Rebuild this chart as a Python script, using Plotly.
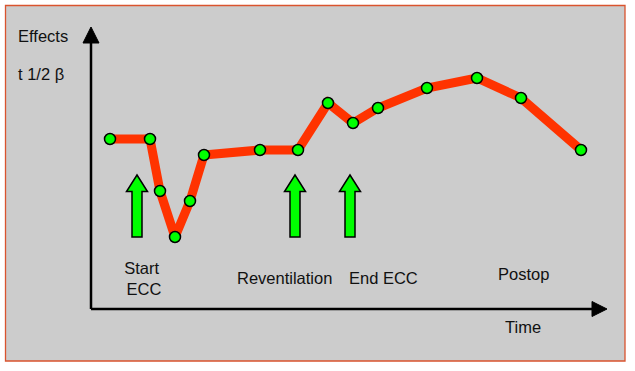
import plotly.graph_objects as go

# Time course (arbitrary units, origin at the axes corner)
time = [19, 59, 69, 84, 99, 113, 169, 207, 237, 262, 287, 336, 386, 430, 490]
effect = [170, 170, 118, 72, 108, 154, 159, 159, 206, 186, 201, 221, 231, 211, 159]

# Event markers (green arrows)
event_x = [46, 204, 259]
arrow_bottom = 72
arrow_top = 134

# Event labels
label_text = ["Start<br> ECC", "Reventilation", "End ECC", "Postop"]
label_x = [51, 193, 292, 432]
label_y = [31, 31, 31, 35]

# Axis extents
x_end = 516
y_end = 282

fig = go.Figure()

shapes = []
# Background box with orange-red border (paper coords)
shapes.append(dict(type="rect", xref="paper", yref="paper",
                   x0=5.5/635, x1=625/635, y0=1-361/371, y1=1-5.5/371,
                   fillcolor="#CCCCCC", line=dict(color="#D9532E", width=1.3),
                   layer="below"))

# axes lines
shapes.append(dict(type="line", x0=0, y0=0, x1=x_end - 14, y1=0,
                   line=dict(color="black", width=2.5)))
shapes.append(dict(type="line", x0=0, y0=0, x1=0, y1=y_end - 14,
                   line=dict(color="black", width=2.5)))
# arrow heads
shapes.append(dict(type="path",
                   path=f"M {x_end-15},-7.5 L {x_end},0 L {x_end-15},7.5 Z",
                   fillcolor="black", line=dict(color="black", width=1)))
shapes.append(dict(type="path",
                   path=f"M -8,{y_end-16} L 0,{y_end} L 8,{y_end-16} Z",
                   fillcolor="black", line=dict(color="black", width=1)))

# green arrows
for ex in event_x:
    hw_shaft = 5
    hw_head = 10.5
    head_base = arrow_top - 16.5
    p = (f"M {ex-hw_shaft},{arrow_bottom} L {ex+hw_shaft},{arrow_bottom} "
         f"L {ex+hw_shaft},{head_base} L {ex+hw_head},{head_base} "
         f"L {ex},{arrow_top} L {ex-hw_head},{head_base} "
         f"L {ex-hw_shaft},{head_base} Z")
    shapes.append(dict(type="path", path=p, fillcolor="#00FF00",
                       line=dict(color="black", width=1.5)))

fig.add_trace(go.Scatter(
    x=time, y=effect, mode="lines+markers",
    line=dict(color="#FF3300", width=9),
    marker=dict(size=11, color="#00FF00", line=dict(color="black", width=1.5)),
    hoverinfo="skip", showlegend=False))

annotations = []
font = dict(family="Liberation Sans, Arial, sans-serif", size=16.5, color="#111111")
for t, lx, ly in zip(label_text, label_x, label_y):
    annotations.append(dict(x=lx, y=ly, text=t, showarrow=False, font=font,
                            xanchor="center", yanchor="middle"))
annotations.append(dict(x=432, y=-18, text="Time", showarrow=False, font=font,
                        xanchor="center", yanchor="middle"))
annotations.append(dict(x=-75, y=273, text="Effects", showarrow=False, font=font,
                        xanchor="left", yanchor="middle"))
annotations.append(dict(x=-75, y=235, text="t 1/2 β", showarrow=False, font=font,
                        xanchor="left", yanchor="middle"))

fig.update_layout(
    width=635, height=371,
    margin=dict(l=0, r=0, t=0, b=0),
    paper_bgcolor="white", plot_bgcolor="rgba(0,0,0,0)",
    xaxis=dict(range=[-91, 544], visible=False, fixedrange=True),
    yaxis=dict(range=[-62, 309], visible=False, fixedrange=True),
    shapes=shapes, annotations=annotations,
)

fig.write_html("out.html", config={"displayModeBar": False},
               post_script="document.body.style.margin='0';")
